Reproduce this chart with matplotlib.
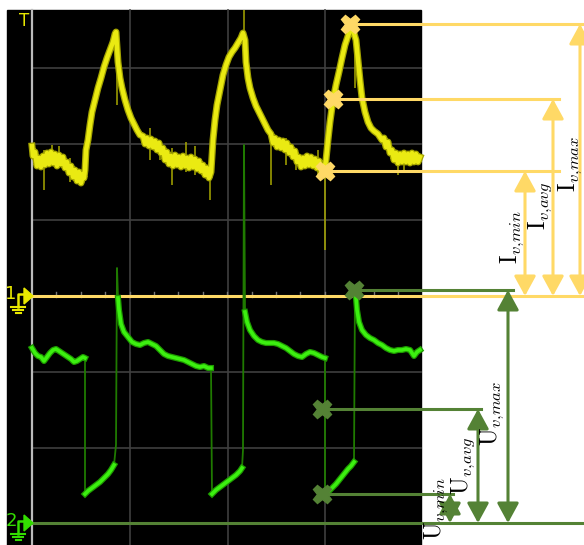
import numpy as np
import matplotlib
matplotlib.use("Agg")
import matplotlib.pyplot as plt
from matplotlib.patches import Rectangle, Polygon

plt.rcParams['mathtext.fontset'] = 'cm'

# ---------------- data (screen units of the scope picture) ----------------
# Channel 1 (current, yellow)
ch1_x = [32, 33, 35, 37, 39, 41, 43, 45, 47, 49, 51, 53, 55, 57, 59, 61, 63, 65, 67, 69, 71, 73, 75, 77, 79, 81, 83, 84,
         85, 86, 88, 90, 92, 95, 98, 101, 104, 107, 110, 113, 115, 116,
         118, 120, 122, 125, 128, 131, 134, 137, 140,
         143, 145, 147, 149, 151, 153, 155, 157, 159, 161, 163, 165, 167, 169, 171, 173, 175, 177, 179, 181, 183, 185,
         187, 189, 191, 193, 195, 197, 199, 201, 203, 205, 207, 209, 211,
         213, 215, 217, 220, 223, 226, 229, 232, 235, 238, 241, 243,
         245, 246, 248, 250, 253, 256, 259, 262, 265, 268,
         271, 273, 275, 277, 279, 281, 283, 285, 287, 289, 291, 293, 295, 297, 299, 301, 303, 305, 307, 309, 311, 313,
         315, 317, 319, 321, 323, 324,
         326, 328, 330, 333, 336, 339, 342, 345, 348, 350, 353,
         356, 358, 360, 362, 365, 368, 371, 374, 378, 382,
         384, 386, 388, 390, 392, 394, 396, 398, 400, 402, 404, 406, 408, 410, 412, 414, 416, 418, 420]
ch1_y = [146, 156, 152, 166, 158, 167, 156, 165, 153, 164, 152, 163, 154, 166, 155, 164, 157, 168, 162, 173, 166, 177,
         170, 181, 172, 183, 174, 178,
         170, 150, 140, 125, 112, 100, 88, 78, 67, 58, 50, 42, 34, 32,
         62, 78, 88, 100, 110, 118, 124, 130, 135,
         136, 144, 138, 146, 139, 147, 141, 150, 143, 153, 148, 160, 152, 164, 156, 166, 155, 165, 157, 167, 156, 166,
         158, 168, 157, 167, 159, 169, 161, 171, 165, 175, 168, 178, 172,
         140, 120, 105, 90, 75, 65, 57, 52, 48, 43, 38, 33,
         40, 62, 78, 88, 98, 106, 112, 118, 124, 130,
         134, 143, 138, 147, 140, 148, 141, 150, 143, 153, 147, 157, 151, 162, 157, 167, 158, 166, 156, 165, 157, 166,
         159, 168, 161, 171, 166, 172,
         160, 140, 122, 100, 85, 72, 58, 45, 36, 31, 30,
         40, 60, 80, 98, 112, 122, 128, 131, 134, 140,
         138, 147, 142, 153, 150, 160, 153, 163, 154, 162, 153, 162, 154, 163, 153, 162, 154, 162, 157]
# Channel 1 glitches: x, top, bottom
ch1_spike_x = [44, 52, 59, 70, 117, 150, 160, 172, 186, 195, 210, 244, 271, 286, 296, 318, 325, 355, 398, 404]
ch1_spike_top = [150, 145, 146, 158, 35, 128, 140, 148, 142, 146, 160, 10, 135, 138, 148, 150, 165, 35, 152, 150]
ch1_spike_bot = [190, 165, 168, 182, 105, 160, 160, 185, 172, 175, 200, 40, 185, 165, 170, 178, 250, 88, 175, 172]

# Channel 2 (voltage, green)
ch2_x = [32, 35, 38, 41, 44, 47, 50, 53, 56, 59, 62, 65, 68, 71, 74, 77, 80, 83, 85,
         85, 88, 92, 96, 100, 104, 108, 111, 114, 116,
         117, 118,
         119, 121, 124, 128, 132, 136, 140, 144, 148, 152, 156, 160, 164, 168, 172, 176, 180, 184, 188, 192, 196,
         200, 204, 208, 211,
         212, 216, 220, 224, 228, 232, 236, 240, 242, 243,
         244, 245,
         247, 250, 254, 258, 262, 266, 270, 274, 278, 282, 286, 290, 294, 298, 302, 306, 310, 314, 318, 322, 325,
         325, 328, 332, 336, 340, 344, 348, 351, 354,
         355, 356,
         357, 359, 362, 366, 370, 374, 378, 382, 386, 390, 394, 398, 402, 406, 410, 414, 417, 420]
ch2_y = [348, 353, 356, 357, 361, 357, 353, 350, 349, 351, 353, 355, 357, 359, 362, 361, 359, 357, 358,
         494, 491, 488, 485, 482, 478, 474, 470, 465, 445,
         268, 298,
         310, 324, 332, 337, 342, 344, 345, 343, 342, 344, 346, 350, 354, 356, 357, 358, 359, 360, 362, 364, 366,
         367, 366, 368, 368,
         494, 490, 487, 484, 481, 478, 475, 471, 468, 450,
         145, 312,
         322, 330, 336, 340, 342, 343, 343, 343, 344, 346, 348, 351, 354, 356, 357, 354, 352, 353, 355, 357, 358,
         494, 492, 488, 484, 479, 474, 469, 466, 462,
         288, 298,
         310, 322, 330, 335, 338, 340, 343, 345, 348, 350, 351, 350, 350, 349, 350, 356, 352, 350]

# Annotated levels
i_marker_x = [350, 333, 325]
i_marker_y = [24, 99, 171]
i_line_end = [584, 559, 559]
i_arrow_x = [580, 553, 525]
i_labels = [r'$\mathrm{I}_{v{,}max}$', r'$\mathrm{I}_{v{,}avg}$', r'$\mathrm{I}_{v{,}min}$']
i_label_pos = [(570, 164), (540, 206), (512, 237)]
ch1_ref = 296

u_marker_x = [354, 322, 322]
u_marker_y = [290, 409, 494]
u_line_end = [513, 481, 453]
u_arrow_x = [508, 478, 450]
u_labels = [r'$\mathrm{U}_{v{,}max}$', r'$\mathrm{U}_{v{,}avg}$', r'$\mathrm{U}_{v{,}min}$']
u_label_pos = [(492, 413), (463, 466), (436, 508)]
ch2_ref = 523

# ---------------- drawing ----------------
YEL_A = '#FFD966'
GRN_A = '#548235'

fig = plt.figure(figsize=(5.84, 5.45), dpi=100)
ax = fig.add_axes([0, 0, 1, 1])
ax.set_xlim(0, 584)
ax.set_ylim(545, 0)
ax.axis('off')

# scope screen
ax.add_patch(Rectangle((7, 10), 414, 535, color='black', zorder=0))
for gx in [130, 228, 325]:
    ax.plot([gx, gx], [10, 545], color='#3f3f3f', lw=1.2, zorder=1)
for gy in [68, 144, 220, 372, 448]:
    ax.plot([32, 421], [gy, gy], color='#3f3f3f', lw=1.2, zorder=1)
ax.plot([32, 32], [10, 545], color='#BBBBBB', lw=1.6, zorder=2)
ax.text(24, 21, 'T', color='#E8E800', fontsize=12, ha='center', va='center', zorder=5)

# reference lines
ax.plot([32, 584], [ch1_ref, ch1_ref], color=YEL_A, lw=2.2, zorder=3)
for tx in np.arange(32 + 24.4, 421, 24.4):
    ax.plot([tx, tx], [ch1_ref - 4, ch1_ref + 1], color='#777777', lw=1, zorder=2)
ax.plot([32, 584], [ch2_ref, ch2_ref], color=GRN_A, lw=2.2, zorder=3)


def ground_marker(y, label, color):
    ax.text(11, y - 2, label, color=color, fontsize=13, ha='center', va='center', zorder=5)
    ax.plot([18, 18, 24], [y + 11, y - 2, y - 2], color=color, lw=1.8, zorder=5)
    ax.add_patch(Polygon([[24, y - 8], [24, y + 8], [33, y]], closed=True, color=color, zorder=5))
    for w, dy in [(7, 11), (5, 14), (2.5, 17)]:
        ax.plot([18 - w, 18 + w], [y + dy, y + dy], color=color, lw=1.5, zorder=5)


ground_marker(ch1_ref, '1', '#E8E800')
ground_marker(ch2_ref, '2', '#33DD00')

# channel 1 trace
ax.vlines(ch1_spike_x, ch1_spike_top, ch1_spike_bot, color='#A8A800', lw=1.1, zorder=3)
ax.plot(ch1_x, ch1_y, color='#A3A300', lw=5.0, zorder=3)
ax.plot(ch1_x, ch1_y, color='#EAEA12', lw=3.2, zorder=4)

# channel 2 trace: thin for fast edges, bright for slow parts
c2x = np.array(ch2_x, dtype=float)
c2y = np.array(ch2_y, dtype=float)
ax.plot(c2x, c2y, color='#1F7A00', lw=1.3, zorder=3)
fast = np.abs(np.diff(c2y)) > 15
bx, by = [c2x[0]], [c2y[0]]
for i in range(1, len(c2x)):
    if fast[i - 1]:
        bx.append(np.nan)
        by.append(np.nan)
    bx.append(c2x[i])
    by.append(c2y[i])
ax.plot(bx, by, color='#1E9A00', lw=4.4, zorder=4)
ax.plot(bx, by, color='#3CF010', lw=2.6, zorder=4)

arrow_style = '<|-|>,head_length=0.55,head_width=0.3'

# current annotations
for mx, my, le, axx, lab, (lx, ly) in zip(i_marker_x, i_marker_y, i_line_end, i_arrow_x, i_labels, i_label_pos):
    ax.plot([mx, le], [my, my], color=YEL_A, lw=2.2, zorder=6)
    ax.plot([mx], [my], marker='X', ms=13, color=YEL_A, mec=YEL_A, zorder=7)
    ax.annotate('', xy=(axx, my), xytext=(axx, ch1_ref),
                arrowprops=dict(arrowstyle=arrow_style, mutation_scale=22, lw=2.2,
                                color=YEL_A, shrinkA=0, shrinkB=0), zorder=6)
    ax.text(lx, ly, lab, rotation=90, fontsize=17, ha='center', va='center', color='black', zorder=7)

# voltage annotations
for mx, my, le, axx, lab, (lx, ly) in zip(u_marker_x, u_marker_y, u_line_end, u_arrow_x, u_labels, u_label_pos):
    ax.plot([mx, le], [my, my], color=GRN_A, lw=2.2, zorder=6)
    ax.plot([mx], [my], marker='X', ms=13, color=GRN_A, mec=GRN_A, zorder=7)
    ax.annotate('', xy=(axx, my), xytext=(axx, ch2_ref),
                arrowprops=dict(arrowstyle=arrow_style, mutation_scale=22, lw=2.2,
                                color=GRN_A, shrinkA=0, shrinkB=0), zorder=6)
    ax.text(lx, ly, lab, rotation=90, fontsize=17, ha='center', va='center', color='black', zorder=7)

fig.savefig('out.png', dpi=100, facecolor='white')
